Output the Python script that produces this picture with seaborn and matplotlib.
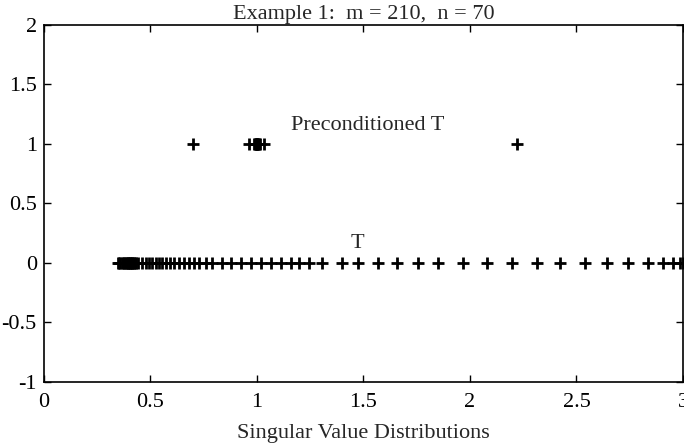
import matplotlib
matplotlib.use("Agg")
import matplotlib.pyplot as plt
import seaborn as sns
import pandas as pd

# Singular values of T (n = 70)
t_values = [0.35, 0.355, 0.36, 0.365, 0.37, 0.375, 0.38, 0.385, 0.39, 0.393, 0.396,
            0.40, 0.403, 0.406, 0.41, 0.413, 0.416, 0.42, 0.425, 0.43, 0.435, 0.44,
            0.461, 0.48, 0.494, 0.508, 0.527, 0.541, 0.555, 0.574, 0.593, 0.612,
            0.635, 0.659, 0.682, 0.706, 0.729, 0.762, 0.791,
            0.838, 0.88, 0.927, 0.974, 1.021, 1.068, 1.115, 1.162, 1.2, 1.247, 1.308,
            1.398, 1.473, 1.567, 1.656, 1.755, 1.85,
            1.967, 2.08, 2.198, 2.315, 2.424, 2.541,
            2.645, 2.744, 2.838, 2.904, 2.951, 2.988, 3.0]
# Singular values of preconditioned T
pt_values = [0.70, 0.965, 0.985, 0.99, 0.995, 0.998, 1.0, 1.0, 1.002, 1.005,
             1.01, 1.015, 1.035, 2.22]

df = pd.concat([
    pd.DataFrame({"sv": t_values, "level": 0.0}),
    pd.DataFrame({"sv": pt_values, "level": 1.0}),
], ignore_index=True)

sns.set_style("ticks")
plt.rcParams["font.family"] = ["Liberation Serif", "DejaVu Serif"]
plt.rcParams["xtick.direction"] = "in"
plt.rcParams["ytick.direction"] = "in"

fig = plt.figure(figsize=(6.84, 4.43), dpi=100)
ax = fig.add_axes([0.064, 0.138, 0.9345, 0.806])

sns.scatterplot(data=df, x="sv", y="level", marker="+", s=70, linewidth=2.0,
                color="black", ax=ax, legend=False)

ax.set_xlim(0, 3)
ax.set_ylim(-1, 2)
ax.set_xticks([0, 0.5, 1, 1.5, 2, 2.5, 3])
ax.set_xticklabels(["0", "0.5", "1", "1.5", "2", "2.5", "3"])
ax.set_yticks([-1, -0.5, 0, 0.5, 1, 1.5, 2])
ax.set_yticklabels(["-1", "-0.5", "0", "0.5", "1", "1.5", "2"])
ax.tick_params(axis="both", which="both", direction="in", top=True, right=True,
               length=5, width=1, labelsize=16, colors="black", pad=5)
ax.tick_params(axis="x", pad=8)
for sp in ax.spines.values():
    sp.set_linewidth(1.2)
    sp.set_color("black")

ax.set_xlabel("Singular Value Distributions", fontsize=16, labelpad=9)
ax.set_ylabel("")
ax.set_title("Example 1:  m = 210,  n = 70", fontsize=16, pad=4)

ax.text(1.16, 1.15, "Preconditioned T", fontsize=16, ha="left", va="center")
ax.text(1.47, 0.165, "T", fontsize=16, ha="center", va="center")

fig.savefig("out.png", dpi=100)
